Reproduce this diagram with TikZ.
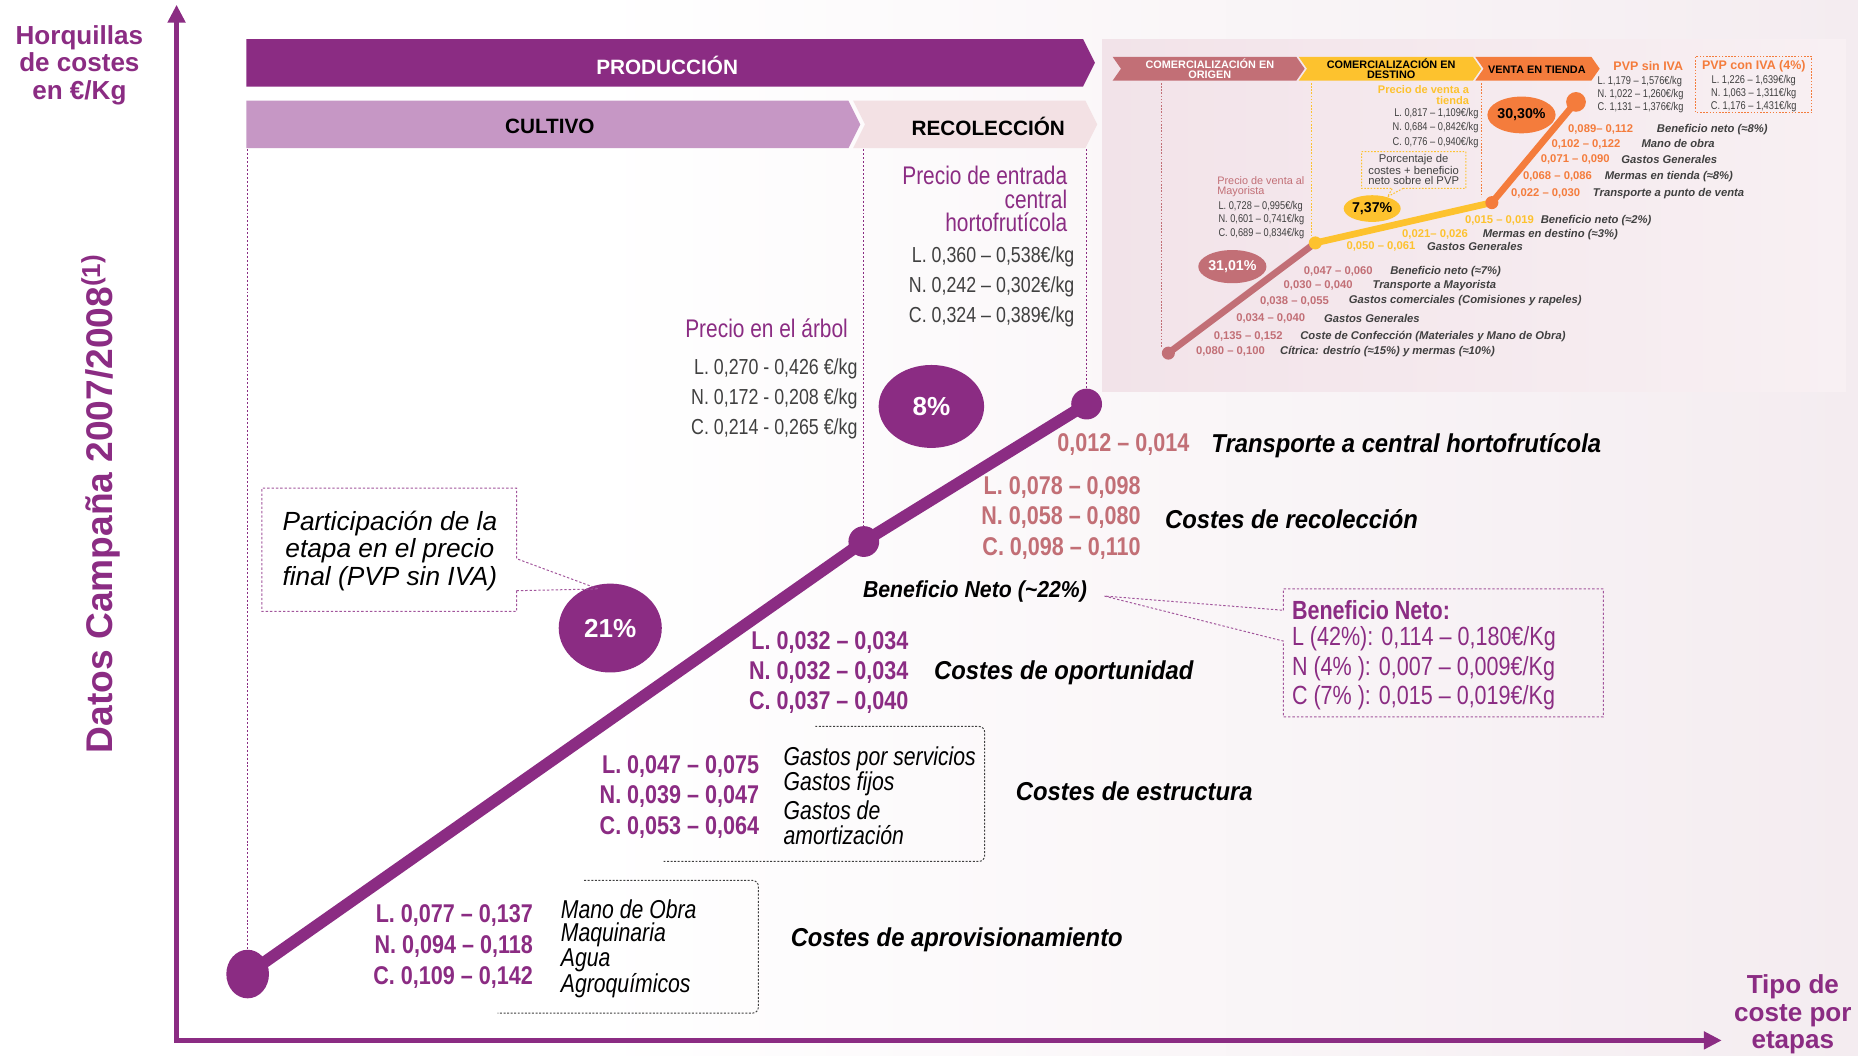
\documentclass[tikz,border=0pt]{standalone}
\usepackage{fontspec}
\setmainfont{Liberation Sans}
\newfontfamily\narrowfont[FakeStretch=0.82]{Liberation Sans}
\newfontfamily\numfont[FakeStretch=0.84]{Liberation Sans}
\newfontfamily\labfont[FakeStretch=0.92]{Liberation Sans}
\usetikzlibrary{shapes,arrows.meta,positioning}

\definecolor{prodpurple}{HTML}{8B2C83}
\definecolor{cultpurple}{HTML}{C697C5}
\definecolor{recolpink}{HTML}{F3E1E4}
\definecolor{origrose}{HTML}{C26F76}
\definecolor{destyellow}{HTML}{FDC22E}
\definecolor{tiendaorange}{HTML}{F47C3C}
\definecolor{valgray}{HTML}{404040}
\definecolor{insetleft}{HTML}{F2E3E9}
\definecolor{insetright}{HTML}{F8F0F3}
\definecolor{backpink}{HTML}{F4ECF0}

\begin{document}
\begin{tikzpicture}[x=0.6pt,y=-0.6pt,inner sep=0pt,
    axis/.style={draw=prodpurple,line width=2.4pt,
        {Triangle[length=9pt,width=8.6pt]}-{Triangle[length=9pt,width=8.6pt]}},
    mainline/.style={draw=prodpurple,line width=6pt,line join=round},
    dot/.style={circle,fill=prodpurple,minimum size=15.6pt},
    pct/.style={ellipse,fill=prodpurple,text=white,
        font=\bfseries\fontsize{13.2}{14}\selectfont},
    guide/.style={draw=prodpurple,line width=0.5pt,dash pattern=on 1pt off 1pt},
    callout/.style={draw=prodpurple!80,line width=0.5pt,dash pattern=on 1.2pt off 1pt},
    bracket/.style={draw=black!75,line width=0.5pt,dash pattern=on 1pt off 0.8pt,rounded corners=3pt},
    banner/.style={font=\bfseries\fontsize{10.5}{12}\selectfont},
    axislabel/.style={text=prodpurple,align=center,font=\bfseries\fontsize{13.2}{13.8}\selectfont},
    pricehead/.style={text=prodpurple,font=\narrowfont\fontsize{12.9}{12}\selectfont},
    priceval/.style={text=valgray,anchor=east,font=\narrowfont\fontsize{11}{12}\selectfont},
    costnum/.style={text=prodpurple,anchor=east,font=\numfont\bfseries\fontsize{13}{14}\selectfont},
    recolnum/.style={costnum,text=origrose},
    costlabel/.style={anchor=west,font=\labfont\bfseries\itshape\fontsize{13.1}{14}\selectfont},
    costitem/.style={anchor=west,font=\narrowfont\itshape\fontsize{13.1}{13}\selectfont},
    boxline/.style={anchor=west,text=prodpurple,font=\narrowfont\fontsize{13.3}{15}\selectfont},
    % small styles of the inset
    tinybanner/.style={align=center,font=\bfseries\fontsize{5.5}{4.6}\selectfont},
    tinynum/.style={anchor=west,font=\bfseries\fontsize{5.7}{6}\selectfont},
    tinylabel/.style={anchor=west,text=valgray,font=\bfseries\itshape\fontsize{5.7}{6}\selectfont},
    tinyval/.style={text=valgray,font=\narrowfont\fontsize{5.7}{6}\selectfont},
    tinypct/.style={ellipse,font=\bfseries\fontsize{7.2}{8}\selectfont},
    tinydot/.style={circle,minimum size=6.6pt},
    tinyguide/.style={line width=0.5pt,dash pattern=on 0.8pt off 0.8pt}]

    % Background
    \useasboundingbox (0,0) rectangle (1568,891);
    \fill[white] (0,0) rectangle (1568,891);
    \shade[left color=white,right color=backpink] (500,0) rectangle (1568,891);
    \shade[left color=insetleft,right color=insetright] (930,33) rectangle (1558,330);

    % Stage banners
    \fill[prodpurple] (208,33) -- (914,33) -- (924,53) -- (914,73) -- (208,73) -- cycle;
    \fill[cultpurple] (208,85) -- (716,85) -- (726,105) -- (716,125) -- (208,125) -- cycle;
    \fill[recolpink] (720,85) -- (916,85) -- (926,105) -- (916,125) -- (720,125) -- (730,105) -- cycle;
    \node[banner,text=white] (prod) at (563,55) {PRODUCCIÓN};
    \node[banner] (cult) at (464,107) {CULTIVO};
    \node[banner] (recol) at (834,107) {RECOLECCIÓN};

    % Axes
    \coordinate (origin) at (149,878);
    \coordinate (ytip) at (149,4);
    \coordinate (xtip) at (1453,878);
    \draw[axis] (ytip) -- (origin) -- (xtip);
    \node[axislabel] (ylab) at (67,55) {Horquillas\\de costes\\en €/Kg};
    \node[axislabel] (xlab) at (1513,856) {Tipo de\\coste por\\etapas};
    \node[rotate=90,text=prodpurple,font=\bfseries\fontsize{18.8}{20}\selectfont] (datos) at (85,425)
        {Datos Campaña 2007/2008\textsuperscript{(1)}};

    % Cost line
    \coordinate (barbot) at (0,126);
    \coordinate (p0) at (209,822);
    \coordinate (p1) at (729,457);
    \coordinate (p2) at (917,341);
    \draw[guide] (p0 |- barbot) -- (p0);
    \draw[guide] (p1 |- barbot) -- (p1);
    \draw[guide] (p2 |- barbot) -- (p2);
    \draw[mainline] (p0) -- (p1) -- (p2);
    \node[ellipse,fill=prodpurple,minimum width=21.6pt,minimum height=24.6pt] (start) at (p0) {};
    \node[dot] (mid) at (p1) {};
    \node[dot] (top) at (p2) {};

    \node[pct,minimum width=52.2pt,minimum height=45pt] (pct21) at (515,530) {21\%};
    \node[pct,minimum width=53.4pt,minimum height=42pt] (pct8) at (786,343) {8\%};

    % Prices
    \node[pricehead,anchor=west] (arbol) at (578,277) {Precio en el árbol};
    \foreach \t [count=\i] in {{L. 0,270 - 0,426 €/kg},{N. 0,172 - 0,208 €/kg},{C. 0,214 - 0,265 €/kg}}
        \node[priceval] (arbol\i) at (724,285.5+25.5*\i) {\t};
    \node[pricehead,anchor=east,align=right] (entrada) at (901,168) {Precio de entrada\\central\\hortofrutícola};
    \foreach \t [count=\i] in {{L. 0,360 – 0,538€/kg},{N. 0,242 – 0,302€/kg},{C. 0,324 – 0,389€/kg}}
        \node[priceval] (entrada\i) at (907,192+25*\i) {\t};

    % Participation callout
    \node[font=\itshape\fontsize{13.3}{14.1}\selectfont,align=center] (part) at (329,465)
        {Participación de la\\etapa en el precio\\final (PVP sin IVA)};
    \coordinate (parttip) at (505,497);
    \draw[callout] (436,498.5) -- (436,516) -- (221,516) -- (221,412) -- (436,412) -- (436,471.5) -- (parttip) -- cycle;

    % Recoleccion costs
    \node[recolnum,anchor=west] (trnum) at (892,375) {0,012 – 0,014};
    \node[costlabel] (trlab) at (1022,376) {Transporte a central hortofrutícola};
    \foreach \t [count=\i] in {{L. 0,078 – 0,098},{N. 0,058 – 0,080},{C. 0,098 – 0,110}}
        \node[recolnum] (rec\i) at (963,385+26*\i) {\t};
    \node[costlabel] (reclab) at (983,438) {Costes de recolección};

    % Net profit
    \node[costlabel,font=\labfont\bfseries\itshape\fontsize{11.7}{13}\selectfont] (bnlab) at (728,499)
        {Beneficio Neto (\textasciitilde22\%)};
    \coordinate (bntip) at (932,503);
    \draw[callout] (1083,515) -- (1083,497) -- (1353,497) -- (1353,605) -- (1083,605) -- (1083,541) -- (bntip) -- cycle;
    \node[boxline,font=\narrowfont\bfseries\fontsize{13.3}{15}\selectfont] (bnhead) at (1090,515) {Beneficio Neto:};
    \foreach \t [count=\i] in {{L (42\%): 0,114 – 0,180€/Kg},{N (4\% ): 0,007 – 0,009€/Kg},{C (7\% ): 0,015 – 0,019€/Kg}}
        \node[boxline] (bn\i) at (1090,514+25*\i) {\t};

    % Cultivo costs
    \foreach \t [count=\i] in {{L. 0,032 – 0,034},{N. 0,032 – 0,034},{C. 0,037 – 0,040}}
        \node[costnum] (opo\i) at (767,516.5+25.5*\i) {\t};
    \node[costlabel] (opolab) at (788,568) {Costes de oportunidad};

    \draw[bracket] (688,613) -- (831,613) -- (831,727) -- (560,727);
    \foreach \t [count=\i] in {{L. 0,047 – 0,075},{N. 0,039 – 0,047},{C. 0,053 – 0,064}}
        \node[costnum] (est\i) at (641,621.5+25.5*\i) {\t};
    \foreach \t [count=\i] in {Gastos por servicios,Gastos fijos,Gastos de,amortización}
        \node[costitem] (estitem\i) at (661,618.3+21.7*\i) {\t};
    \node[costlabel] (estlab) at (857,668) {Costes de estructura};

    \draw[bracket] (493,743) -- (640,743) -- (640,855) -- (420,855);
    \foreach \t [count=\i] in {{L. 0,077 – 0,137},{N. 0,094 – 0,118},{C. 0,109 – 0,142}}
        \node[costnum] (apr\i) at (450,747+26*\i) {\t};
    \foreach \t [count=\i] in {Mano de Obra,Maquinaria,Agua,Agroquímicos}
        \node[costitem] (apritem\i) at (473,745.3+21.7*\i) {\t};
    \node[costlabel] (aprlab) at (667,793) {Costes de aprovisionamiento};

    % Inset: commercialisation stages
    \fill[origrose] (939,48) -- (1094,48) -- (1101,58) -- (1094,68) -- (939,68) -- (946,58) -- cycle;
    \fill[destyellow] (1096,48) -- (1243,48) -- (1250,58) -- (1243,68) -- (1096,68) -- (1103,58) -- cycle;
    \fill[tiendaorange] (1245,48) -- (1343,48) -- (1350,58) -- (1343,68) -- (1245,68) -- (1252,58) -- cycle;
    \node[tinybanner,text=white] (orig) at (1021,58) {COMERCIALIZACIÓN EN\\ORIGEN};
    \node[tinybanner] (dest) at (1174,58) {COMERCIALIZACIÓN EN\\DESTINO};
    \node[tinybanner] (tienda) at (1297,59) {VENTA EN TIENDA};

    \coordinate (r0) at (986,298);
    \coordinate (y0) at (1110,205);
    \coordinate (o0) at (1259,171);
    \coordinate (o1) at (1330,86);
    \draw[tinyguide,origrose] (980,70) -- (980,293);
    \draw[tinyguide,destyellow] (1107,70) -- (1107,200);
    \draw[tinyguide,tiendaorange] (1250,70) -- (1250,166);
    \draw[line width=3.4pt,origrose] (r0) -- (y0);
    \draw[line width=3.4pt,destyellow] (y0) -- (o0);
    \draw[line width=3.4pt,tiendaorange] (o0) -- (o1);
    \node[tinydot,fill=origrose] (r0dot) at (r0) {};
    \node[tinydot,fill=destyellow] (y0dot) at (y0) {};
    \node[tinydot,fill=tiendaorange] (o0dot) at (o0) {};
    \node[tinydot,fill=tiendaorange,minimum size=10pt] (o1dot) at (o1) {};

    \node[tinypct,fill=origrose,text=white,minimum width=27pt,minimum height=16.8pt] (p31) at (1040,225) {31,01\%};
    \node[tinypct,fill=destyellow,minimum width=27.6pt,minimum height=13.5pt] (p7) at (1158,176) {7,37\%};
    \node[tinypct,fill=tiendaorange,minimum width=27pt,minimum height=18.6pt] (p30) at (1284,97) {30,30\%};

    \coordinate (porctip) at (1171,166);
    \draw[tinyguide,destyellow] (1184,159) -- (1237,159) -- (1237,128) -- (1149,128) -- (1149,159) -- (1175,159) -- (porctip) -- cycle;
    \node[align=center,text=valgray,font=\fontsize{5.7}{4.8}\selectfont] (porc) at (1193,143)
        {Porcentaje de\\costes + beneficio\\neto sobre el PVP};

    % Inset: prices
    \node[anchor=east,align=right,text=destyellow,font=\bfseries\fontsize{5.6}{5.4}\selectfont] (pvtienda) at (1240,80)
        {Precio de venta a\\tienda};
    \foreach \t [count=\i] in {{L. 0,817 – 1,109€/kg},{N. 0,684 – 0,842€/kg},{C. 0,776 – 0,940€/kg}}
        \node[tinyval,anchor=east] (vt\i) at (1248,84+12*\i) {\t};
    \node[anchor=west,align=left,text=origrose,font=\fontsize{5.5}{5.4}\selectfont] (pvmay) at (1027,157.5)
        {Precio de venta al\\Mayorista};
    \foreach \t [count=\i] in {{L. 0,728 – 0,995€/kg},{N. 0,601 – 0,741€/kg},{C. 0,689 – 0,834€/kg}}
        \node[tinyval,anchor=west] (vm\i) at (1028,163+11.3*\i) {\t};
    \node[text=tiendaorange,font=\bfseries\fontsize{6.3}{7}\selectfont] (pvpsin) at (1391,55.5) {PVP sin IVA};
    \foreach \t [count=\i] in {{L. 1,179 – 1,576€/kg},{N. 1,022 – 1,260€/kg},{C. 1,131 – 1,376€/kg}}
        \node[tinyval,anchor=west] (vs\i) at (1348,57.5+11*\i) {\t};
    \draw[tinyguide,tiendaorange] (1431,48) rectangle (1529,95);
    \node[text=tiendaorange,font=\bfseries\fontsize{6.3}{7}\selectfont] (pvpcon) at (1480,56) {PVP con IVA (4\%)};
    \foreach \t [count=\i] in {{L. 1,226 – 1,639€/kg},{N. 1,063 – 1,311€/kg},{C. 1,176 – 1,431€/kg}}
        \node[tinyval] (vc\i) at (1480,57+11*\i) {\t};

    % Inset: costs per stage
    \foreach \nx/\ny/\lx/\num/\lab [count=\i] in {
        1100/229/1173/{0,047 – 0,060}/{Beneficio neto (≈7\%)},
        1083/241/1158/{0,030 – 0,040}/{Transporte a Mayorista},
        1063/254/1138/{0,038 – 0,055}/{Gastos comerciales (Comisiones y rapeles)},
        1043/269/1117/{0,034 – 0,040}/{Gastos Generales},
        1024/284/1097/{0,135 – 0,152}/{Coste de Confección (Materiales y Mano de Obra)},
        1009/297/1080/{0,080 – 0,100}/{Cítrica: destrío (≈15\%) y mermas (≈10\%)}} {
        \node[tinynum,text=origrose] (rn\i) at (\nx,\ny) {\num};
        \node[tinylabel] (rl\i) at (\lx,\ny) {\lab};
    }
    \foreach \nx/\ny/\lx/\num/\lab [count=\i] in {
        1136/208/1204/{0,050 – 0,061}/{Gastos Generales},
        1183/198/1251/{0,021– 0,026}/{Mermas en destino (≈3\%)},
        1236/186/1300/{0,015 – 0,019}/{Beneficio neto (≈2\%)}} {
        \node[tinynum,text=destyellow] (yn\i) at (\nx,\ny) {\num};
        \node[tinylabel] (yl\i) at (\lx,\ny) {\lab};
    }
    \foreach \nx/\ny/\lx/\num/\lab [count=\i] in {
        1323/109/1398/{0,089– 0,112}/{Beneficio neto (≈8\%)},
        1309/121.5/1385/{0,102 – 0,122}/{Mano de obra},
        1300/134.5/1368/{0,071 – 0,090}/{Gastos Generales},
        1285/149/1354/{0,068 – 0,086}/{Mermas en tienda (≈8\%)},
        1275/163/1344/{0,022 – 0,030}/{Transporte a punto de venta}} {
        \node[tinynum,text=tiendaorange] (on\i) at (\nx,\ny) {\num};
        \node[tinylabel] (ol\i) at (\lx,\ny) {\lab};
    }
\end{tikzpicture}
\end{document}
